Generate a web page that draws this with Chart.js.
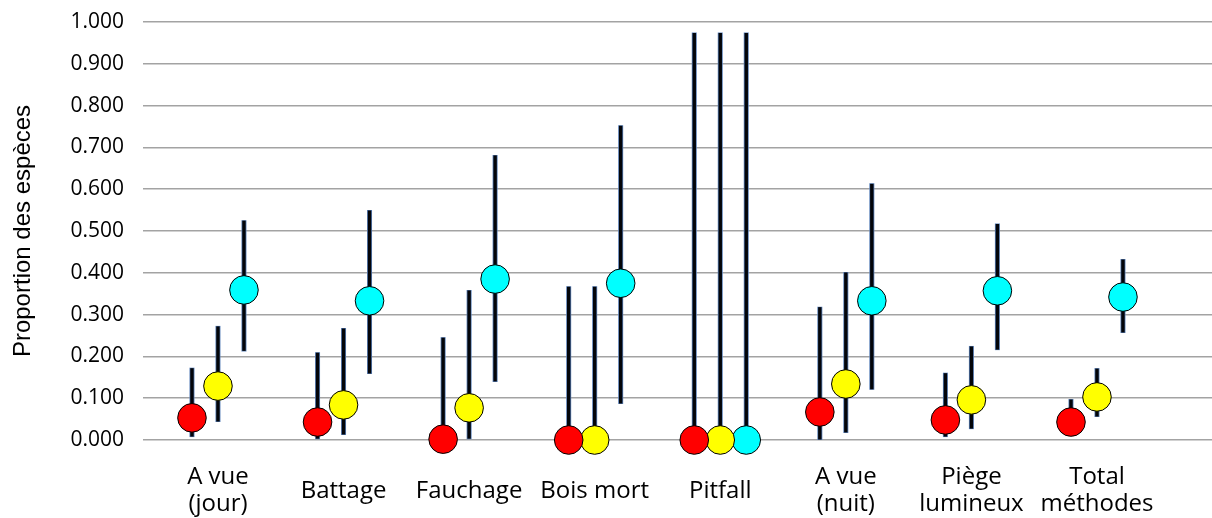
<!DOCTYPE html>
<html>
<head>
<meta charset="utf-8">
<script src="https://cdn.jsdelivr.net/npm/chart.js@4/dist/chart.umd.min.js"></script>
<style>
  body { margin: 0; background: #fff; }
</style>
</head>
<body>
<canvas id="grafico" width="1212" height="518"></canvas>
<script>
const categorias = [['A vue', '(jour)'], 'Battage', 'Fauchage', 'Bois mort', 'Pitfall', ['A vue', '(nuit)'], ['Piège', 'lumineux'], ['Total', 'méthodes']];
const ticksY = [0, 0.1, 0.2, 0.3, 0.4, 0.5, 0.6, 0.7, 0.8, 0.9, 1.0];

const rouge      = [0.053, 0.043, 0.002, 0.000, 0.000, 0.067, 0.048, 0.043];
const rougeBas   = [0.007, 0.002, 0.000, 0.000, 0.000, 0.000, 0.007, 0.020];
const rougeHaut  = [0.173, 0.210, 0.246, 0.368, 0.975, 0.319, 0.161, 0.098];

const jaune      = [0.129, 0.084, 0.077, 0.000, 0.000, 0.134, 0.096, 0.103];
const jauneBas   = [0.043, 0.012, 0.002, 0.000, 0.000, 0.017, 0.026, 0.055];
const jauneHaut  = [0.273, 0.268, 0.359, 0.368, 0.975, 0.402, 0.225, 0.172];

const cyan       = [0.359, 0.333, 0.385, 0.375, 0.000, 0.333, 0.357, 0.342];
const cyanBas    = [0.212, 0.158, 0.139, 0.086, 0.000, 0.120, 0.215, 0.256];
const cyanHaut   = [0.526, 0.550, 0.682, 0.753, 0.975, 0.614, 0.518, 0.433];

// decalage horizontal de chaque serie dans un groupe
const ECART = 0.207;
const series = [
    { valeurs: rouge, bas: rougeBas, haut: rougeHaut, cor: '#ff0000', dx: -ECART },
    { valeurs: jaune, bas: jauneBas, haut: jauneHaut, cor: '#ffff00', dx: 0 },
    { valeurs: cyan,  bas: cyanBas,  haut: cyanHaut,  cor: '#00ffff', dx: ECART }
];

const barrasErro = {
    id: 'barrasErro',
    beforeDatasetsDraw(chart) {
        const ctx = chart.ctx;
        const sx = chart.scales.x, sy = chart.scales.y;
        ctx.save();
        ctx.lineCap = 'butt';
        series.forEach(s => {
            s.bas.forEach((lo, i) => {
                const px = sx.getPixelForValue(i + s.dx);
                const y1 = sy.getPixelForValue(lo);
                const y2 = sy.getPixelForValue(s.haut[i]);
                ctx.beginPath();
                ctx.moveTo(px, y1);
                ctx.lineTo(px, y2);
                ctx.strokeStyle = '#5a80b8';
                ctx.lineWidth = 5;
                ctx.stroke();
                ctx.beginPath();
                ctx.moveTo(px, y1 - 0.5);
                ctx.lineTo(px, y2 + 0.5);
                ctx.strokeStyle = '#03050a';
                ctx.lineWidth = 3.4;
                ctx.stroke();
            });
        });
        ctx.restore();
    }
};

function semPadding(s) {
    s.paddingTop = 0;
    s.paddingBottom = 0;
    s.paddingLeft = 0;
    s.paddingRight = 0;
}

function montarGrafico() {
    const ctx = document.getElementById('grafico');
    new Chart(ctx, {
        type: 'scatter',
        data: {
            datasets: series.map(s => ({
                data: s.valeurs.map((v, i) => ({ x: i + s.dx, y: v })),
                backgroundColor: s.cor,
                borderColor: '#000',
                borderWidth: 1,
                pointRadius: 14.3,
                clip: false
            }))
        },
        plugins: [barrasErro],
        options: {
            responsive: false,
            animation: false,
            layout: { autoPadding: false, padding: { top: 22, right: 0, left: 0, bottom: 0 } },
            plugins: { legend: { display: false }, tooltip: { enabled: false } },
            scales: {
                x: {
                    type: 'linear',
                    min: -0.597,
                    max: 7.916,
                    afterBuildTicks: s => { s.ticks = categorias.map((c, i) => ({ value: i })); },
                    afterFit: s => { s.height = 78; semPadding(s); },
                    grid: { display: false, drawTicks: false },
                    border: { display: false },
                    ticks: {
                        padding: 37,
                        crossAlign: 'center',
                        maxRotation: 0,
                        autoSkip: false,
                        color: '#000',
                        font: { family: 'Open Sans', size: 24, lineHeight: 1.15 },
                        callback: v => categorias[v]
                    }
                },
                y: {
                    min: 0,
                    max: 1,
                    afterBuildTicks: s => { s.ticks = ticksY.map(v => ({ value: v })); },
                    afterFit: s => { s.width = 143; semPadding(s); },
                    grid: { color: '#a3a3a3', lineWidth: 1.6, drawTicks: false },
                    border: { display: false },
                    ticks: {
                        padding: 19,
                        color: '#000',
                        font: { family: 'Open Sans', size: 21 },
                        callback: v => v.toFixed(3)
                    },
                    title: {
                        display: true,
                        text: 'Proportion des espèces',
                        color: '#000',
                        padding: { top: 9, bottom: 0 },
                        font: { family: 'Liberation Sans', size: 24, lineHeight: 1.2 }
                    }
                }
            }
        }
    });
}

window.onload = montarGrafico;
</script>
</body>
</html>
